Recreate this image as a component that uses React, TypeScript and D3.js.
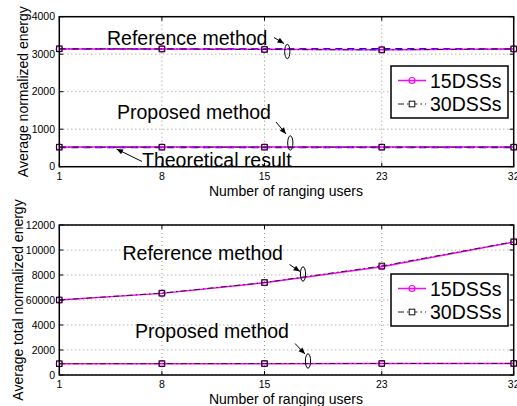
import React from "react";
import * as d3 from "d3";

// x axis: number of ranging users
const users = [1, 8, 15, 23, 32];
const xTickLabels = ["1", "8", "15", "23", "32"];

// top panel: average normalized energy
const topRef15 = [3140, 3140, 3130, 3120, 3140];
const topRef30 = [3145, 3140, 3125, 3115, 3140];
const topProp15 = [525, 525, 525, 525, 525];
const topProp30 = [520, 520, 520, 520, 520];
const topTheoryRef = [3140, 3140, 3140, 3140, 3140];
const topTheoryProp = [520, 520, 520, 520, 520];
const topYTicks = [0, 1000, 2000, 3000, 4000];
const topYTickLabels = ["0", "1000", "2000", "3000", "4000"];

// bottom panel: average total normalized energy
const botRef15 = [6000, 6530, 7380, 8660, 10640];
const botRef30 = [6000, 6550, 7400, 8720, 10660];
const botProp15 = [900, 905, 910, 915, 920];
const botProp30 = [905, 910, 915, 920, 925];
const botYTicks = [0, 2000, 4000, 6000, 8000, 10000, 12000];
const botYTickLabels = ["0", "2000", "4000", "60000", "8000", "10000", "12000"];

const FONT = "'Liberation Sans', Arial, Helvetica, sans-serif";
const MAGENTA = "#ff00ff";

type Series = { values: number[]; kind: "s15" | "s30" | "theory" };
type Note = { text: string; tx: number; ty: number; ax1: number; ay1: number; ax2: number; ay2: number; ex?: number; ey?: number };

function Panel(props: {
  top: number;
  yMax: number;
  yTicks: number[];
  yTickLabels: string[];
  yLabel: string;
  yLabelX: number;
  series: Series[];
  notes: Note[];
  legendTop: number;
}) {
  const left = 59.3, right = 513.7, height = 150;
  const x = d3.scaleLinear().domain([1, 32]).range([left, right]);
  const y = d3.scaleLinear().domain([0, props.yMax]).range([props.top + height, props.top]);
  const line = d3.line<number>().x((_, i) => x(users[i])).y(d => y(d));
  const bottom = props.top + height;

  return (
    <g fontFamily={FONT}>
      {/* grid */}
      {users.map(u => (
        <line key={"gx" + u} x1={x(u)} x2={x(u)} y1={props.top} y2={bottom} stroke="#777" strokeWidth={0.8} strokeDasharray="1 3" />
      ))}
      {props.yTicks.map(t => (
        <line key={"gy" + t} x1={left} x2={right} y1={y(t)} y2={y(t)} stroke="#777" strokeWidth={0.8} strokeDasharray="1 3" />
      ))}
      {/* series */}
      {props.series.map((s, i) => {
        if (s.kind === "theory")
          return <path key={i} d={line(s.values) || ""} fill="none" stroke="#0000ff" strokeWidth={2} strokeDasharray="7 5" />;
        if (s.kind === "s15")
          return (
            <g key={i}>
              <path d={line(s.values) || ""} fill="none" stroke={MAGENTA} strokeWidth={1.5} />
              {s.values.map((v, j) => (
                <circle key={j} cx={x(users[j])} cy={y(v)} r={3} fill="none" stroke={MAGENTA} strokeWidth={1.2} />
              ))}
            </g>
          );
        return (
          <g key={i}>
            <path d={line(s.values) || ""} fill="none" stroke="#222" strokeWidth={1} strokeDasharray="6 3 1.5 3" />
            {s.values.map((v, j) => (
              <rect key={j} x={x(users[j]) - 2.8} y={y(v) - 2.8} width={5.6} height={5.6} fill="none" stroke="#111" strokeWidth={1} />
            ))}
          </g>
        );
      })}
      {/* frame + ticks */}
      <rect x={left} y={props.top} width={right - left} height={height} fill="none" stroke="#000" strokeWidth={1.5} />
      {props.yTicks.map(t => (
        <g key={"ty" + t}>
          <line x1={left} x2={left + 4} y1={y(t)} y2={y(t)} stroke="#000" />
          <line x1={right - 4} x2={right} y1={y(t)} y2={y(t)} stroke="#000" />
        </g>
      ))}
      {users.map(u => (
        <g key={"tx" + u}>
          <line x1={x(u)} x2={x(u)} y1={bottom} y2={bottom - 4} stroke="#000" />
          <line x1={x(u)} x2={x(u)} y1={props.top} y2={props.top + 4} stroke="#000" />
        </g>
      ))}
      {props.yTicks.map((t, i) => (
        <text key={"ly" + t} x={55} y={y(t)} dy="0.35em" textAnchor="end" fontSize={10.5}>{props.yTickLabels[i]}</text>
      ))}
      {users.map((u, i) => (
        <text key={"lx" + u} x={x(u)} y={bottom + 13} textAnchor="middle" fontSize={10.5}>{xTickLabels[i]}</text>
      ))}
      <text x={286} y={bottom + 29} textAnchor="middle" fontSize={14}>Number of ranging users</text>
      <text transform={`translate(${props.yLabelX},${props.top + height / 2}) rotate(-90)`} textAnchor="middle" fontSize={14}>{props.yLabel}</text>
      {/* annotations */}
      {props.notes.map((n, i) => {
        const ang = Math.atan2(n.ay2 - n.ay1, n.ax2 - n.ax1);
        const hl = 7, hw = 0.4;
        const p1 = [n.ax2 - hl * Math.cos(ang - hw), n.ay2 - hl * Math.sin(ang - hw)];
        const p2 = [n.ax2 - hl * Math.cos(ang + hw), n.ay2 - hl * Math.sin(ang + hw)];
        return (
          <g key={"n" + i}>
            <text x={n.tx} y={n.ty} fontSize={19.5}>{n.text}</text>
            <line x1={n.ax1} y1={n.ay1} x2={n.ax2} y2={n.ay2} stroke="#000" strokeWidth={1} />
            <path d={`M${n.ax2},${n.ay2}L${p1[0]},${p1[1]}L${p2[0]},${p2[1]}Z`} fill="#000" />
            {n.ex !== undefined && <ellipse cx={n.ex} cy={n.ey} rx={2.6} ry={7.2} fill="none" stroke="#000" strokeWidth={1} />}
          </g>
        );
      })}
      {/* legend */}
      <g transform={`translate(391,${props.legendTop})`}>
        <rect x={0} y={0} width={117} height={52} fill="#fff" stroke="#000" strokeWidth={1.5} />
        <line x1={7} x2={35} y1={14.5} y2={14.5} stroke={MAGENTA} strokeWidth={1.5} />
        <circle cx={21} cy={14.5} r={3} fill="none" stroke={MAGENTA} strokeWidth={1.2} />
        <text x={39} y={21.5} fontSize={19.5}>15DSSs</text>
        <line x1={7} x2={35} y1={38} y2={38} stroke="#222" strokeWidth={1} strokeDasharray="6 3 1.5 3" />
        <rect x={18.2} y={35.2} width={5.6} height={5.6} fill="#fff" stroke="#111" strokeWidth={1} />
        <text x={39} y={45} fontSize={19.5}>30DSSs</text>
      </g>
    </g>
  );
}

export default function App() {
  return (
    <svg width={517} height={406} style={{ position: "absolute", left: 0, top: 0, background: "#fff" }}>
      <rect width={517} height={406} fill="#fff" />
      <Panel
        top={16.7}
        yMax={4000}
        yTicks={topYTicks}
        yTickLabels={topYTickLabels}
        yLabel="Average normalized energy"
        yLabelX={28}
        legendTop={66}
        series={[
          { values: topTheoryRef, kind: "theory" },
          { values: topTheoryProp, kind: "theory" },
          { values: topRef15, kind: "s15" },
          { values: topProp15, kind: "s15" },
          { values: topRef30, kind: "s30" },
          { values: topProp30, kind: "s30" },
        ]}
        notes={[
          { text: "Reference method", tx: 107, ty: 45, ax1: 274, ay1: 37.5, ax2: 284, ay2: 43.5, ex: 287.3, ey: 51.5 },
          { text: "Proposed method", tx: 117, ty: 119, ax1: 276, ay1: 122, ax2: 286, ay2: 134, ex: 290.3, ey: 143 },
          { text: "Theoretical result", tx: 142, ty: 167, ax1: 142, ay1: 161.5, ax2: 116.5, ay2: 149 },
        ]}
      />
      <Panel
        top={225}
        yMax={12000}
        yTicks={botYTicks}
        yTickLabels={botYTickLabels}
        yLabel="Average total normalized energy"
        yLabelX={23}
        legendTop={274}
        series={[
          { values: botRef15, kind: "s15" },
          { values: botProp15, kind: "s15" },
          { values: botRef30, kind: "s30" },
          { values: botProp30, kind: "s30" },
        ]}
        notes={[
          { text: "Reference method", tx: 122.5, ty: 260, ax1: 289.5, ay1: 264.5, ax2: 300, ay2: 271.5, ex: 303, ey: 274 },
          { text: "Proposed method", tx: 135, ty: 338, ax1: 295, ay1: 343.5, ax2: 305, ay2: 354, ex: 308, ey: 361 },
        ]}
      />
    </svg>
  );
}
